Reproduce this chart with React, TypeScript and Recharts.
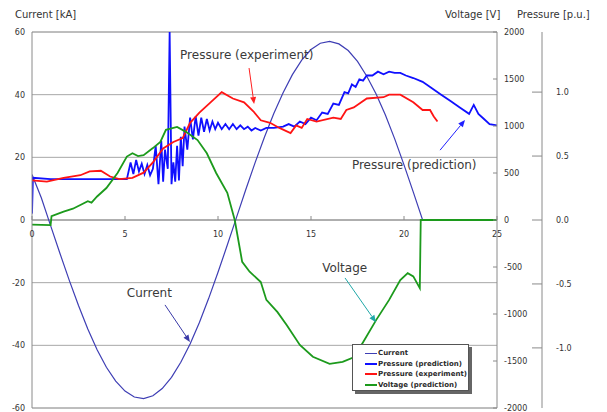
import React from 'react';
import { LineChart, Line, XAxis, YAxis, CartesianGrid, ReferenceLine, ReferenceDot, Legend } from 'recharts';

// time [ms] , value
const currentKA: [number, number][] = [
  [0, 14.5], [0.5, 7.1], [1, -1.8], [1.5, -10.6], [2, -19.2], [2.5, -27.3], [3, -34.8], [3.5, -41.4],
  [4, -47.0], [4.5, -51.4], [5, -54.6], [5.5, -56.5], [6, -57], [6.5, -56.1], [7, -53.8], [7.5, -50.2],
  [8, -45.4], [8.5, -39.6], [9, -32.7], [9.5, -25.0], [10, -16.7], [10.5, -8.0], [11, 0.9], [11.5, 9.8],
  [12, 18.4], [12.5, 26.5], [13, 34.0], [13.5, 40.6], [14, 46.4], [14.5, 51.0], [15, 54.4], [15.5, 56.4],
  [16, 57.0], [16.5, 56.2], [17, 54.1], [17.5, 50.6], [18, 45.9], [18.5, 40.2], [19, 33.5], [19.5, 25.9],
  [20, 17.6], [20.5, 8.9], [21, 0], [25, 0],
];

const pressurePrediction: [number, number][] = [
  [0, 0.05], [0.05, 0.33], [1, 0.32], [2, 0.32], [3, 0.32], [4, 0.32], [5.1, 0.32], [5.3, 0.45], [5.45, 0.36],
  [5.6, 0.47], [5.75, 0.38], [5.9, 0.44], [6.05, 0.36], [6.2, 0.43], [6.35, 0.35], [6.5, 0.4], [6.65, 0.58],
  [6.8, 0.28], [6.95, 0.62], [7.05, 0.3], [7.15, 0.55], [7.3, 0.4], [7.4, 1.47], [7.5, 0.28], [7.6, 0.45],
  [7.7, 0.3], [7.8, 0.58], [7.9, 0.31], [8.0, 0.65], [8.1, 0.42], [8.2, 0.73], [8.35, 0.55], [8.5, 0.8],
  [8.65, 0.63], [8.8, 0.81], [8.95, 0.66], [9.1, 0.8], [9.25, 0.69], [9.4, 0.79], [9.55, 0.7], [9.7, 0.77],
  [9.85, 0.71], [10.0, 0.76], [10.2, 0.71], [10.4, 0.75], [10.6, 0.71], [10.8, 0.75], [11.0, 0.71], [11.2, 0.74],
  [11.4, 0.71], [11.6, 0.73], [11.8, 0.7], [12.0, 0.72], [12.3, 0.7], [12.6, 0.72], [13.0, 0.72], [13.5, 0.73],
  [13.8, 0.75], [14.1, 0.73], [14.4, 0.77], [14.7, 0.75], [15.0, 0.8], [15.3, 0.78], [15.6, 0.84], [15.9, 0.83],
  [16.2, 0.91], [16.5, 0.9], [16.8, 1.0], [17.0, 0.99], [17.2, 1.06], [17.4, 1.04], [17.6, 1.1], [17.8, 1.09],
  [18.0, 1.13], [18.3, 1.13], [18.6, 1.16], [18.9, 1.14], [19.2, 1.16], [19.5, 1.15], [19.8, 1.15], [20.1, 1.13],
  [20.5, 1.11], [21.0, 1.08], [21.5, 1.03], [22.0, 0.98], [22.5, 0.93], [23.0, 0.88], [23.5, 0.83], [23.75, 0.9],
  [24.0, 0.83], [24.3, 0.79], [24.6, 0.75], [25, 0.74],
];

const pressureExperiment: [number, number][] = [
  [0, 0.31], [0.8, 0.3], [1.7, 0.33], [2.6, 0.35], [3.1, 0.38], [3.7, 0.385], [4.2, 0.34], [4.7, 0.32],
  [5.4, 0.33], [6.0, 0.37], [6.5, 0.45], [7.05, 0.56], [7.6, 0.61], [8.1, 0.64], [8.5, 0.76], [9.0, 0.84],
  [9.6, 0.92], [10.2, 1.0], [10.8, 0.95], [11.4, 0.92], [11.9, 0.85], [12.3, 0.78], [12.8, 0.76], [13.3, 0.72],
  [13.9, 0.68], [14.2, 0.74], [14.5, 0.72], [14.8, 0.79], [15.3, 0.77], [16.2, 0.8], [16.6, 0.79], [16.9, 0.86],
  [17.3, 0.88], [18.0, 0.95], [18.9, 0.96], [19.2, 0.98], [19.8, 0.98], [20.5, 0.92], [21.0, 0.86], [21.4, 0.86],
  [21.6, 0.81], [21.8, 0.77],
];

const voltageV: [number, number][] = [
  [0, -50], [1.0, -55], [1.05, 40], [1.7, 90], [2.2, 120], [2.6, 160], [3.0, 200], [3.2, 185], [3.5, 250],
  [4.0, 340], [4.6, 500], [5.1, 675], [5.4, 710], [5.7, 680], [6.0, 690], [6.5, 765], [6.9, 830], [7.2, 960],
  [7.8, 990], [8.3, 935], [8.9, 850], [9.4, 710], [9.9, 500], [10.5, 290], [10.9, 0], [11.3, -445], [11.7, -550],
  [12.3, -660], [12.6, -850], [13.2, -980], [13.7, -1120], [14.4, -1330], [15.1, -1455], [16.0, -1530],
  [16.7, -1510], [17.3, -1460], [17.8, -1300], [18.5, -1065], [19.2, -850], [19.8, -640], [20.2, -565],
  [20.5, -600], [20.85, -725], [20.9, 0], [25, 0],
];

const timeTicks = [0, 5, 10, 15, 20, 25];
const currentTicks = [-60, -40, -20, 0, 20, 40, 60];
const voltageTicks = [-2000, -1500, -1000, -500, 0, 500, 1000, 1500, 2000];
const pressureTicks = [-1, -0.5, 0, 0.5, 1];

const seriesNames = ['Current', 'Pressure (prediction)', 'Pressure (experiment)', 'Voltage (prediction)'];
const seriesColors = ['#3e3eb4', '#1010ff', '#ff1414', '#1c9a1c'];

const toRows = (arr: [number, number][]) => arr.map(([t, v]) => ({ t, v }));

const FONT = 'DejaVu Sans, Verdana, sans-serif';
const AXIS = '#8a8a8a';
const TXT = '#333';

const LeftTick = (p: any) => (
  <text x={p.x - 7} y={p.y} dy={3} textAnchor="end" fontSize={8} fill={TXT} fontFamily={FONT}>{p.payload.value}</text>
);
const VoltTick = (p: any) => (
  <g>
    <line x1={p.x - 4} x2={p.x} y1={p.y} y2={p.y} stroke={AXIS} />
    <text x={p.x + 7} y={p.y} dy={3} textAnchor="start" fontSize={8} fill={TXT} fontFamily={FONT}>{p.payload.value}</text>
  </g>
);
const PressTick = (p: any) => (
  <g>
    <line x1={p.x - 10} x2={p.x} y1={p.y} y2={p.y} stroke={AXIS} />
    <text x={p.x + 14} y={p.y} dy={3} textAnchor="start" fontSize={8} fill={TXT} fontFamily={FONT}>{Number(p.payload.value).toFixed(1)}</text>
  </g>
);

const xTickShape = (label: number) => (props: any) => (
  <g>
    <line x1={props.cx} x2={props.cx} y1={props.cy - 4} y2={props.cy} stroke={AXIS} />
    <text x={props.cx} y={props.cy + 17} textAnchor="middle" fontSize={8} fill={TXT} fontFamily={FONT}>{label}</text>
  </g>
);

const arrowShape = (color: string) => (props: any) => {
  const { x1, y1, x2, y2 } = props;
  if ([x1, y1, x2, y2].some((v) => v == null || isNaN(v))) return null;
  const ang = Math.atan2(y2 - y1, x2 - x1);
  const L = 7, W = 3;
  const bx = x2 - L * Math.cos(ang), by = y2 - L * Math.sin(ang);
  const px = -Math.sin(ang) * W, py = Math.cos(ang) * W;
  return (
    <g>
      <line x1={x1} y1={y1} x2={bx} y2={by} stroke={color} strokeWidth={1} />
      <polygon points={`${x2},${y2} ${bx + px},${by + py} ${bx - px},${by - py}`} fill={color} />
    </g>
  );
};

const textShape = (label: string) => (props: any) => (
  <text x={props.cx} y={props.cy} textAnchor="start" fontSize={12} fill="#3a3a3a" fontFamily={FONT}>{label}</text>
);

const annotations = [
  { text: 'Pressure (experiment)', at: [7.96, 51.4], from: [11.67, 48.5], to: [11.94, 37.0], color: '#ff2020' },
  { text: 'Pressure (prediction)', at: [17.2, 16.3], from: [21.94, 22.3], to: [23.28, 31.9], color: '#2020ff' },
  { text: 'Voltage', at: [15.6, -16.6], from: [16.83, -18.5], to: [18.49, -32.6], color: '#20a8a8' },
  { text: 'Current', at: [5.1, -24.6], from: [7.15, -27.1], to: [8.49, -38.9], color: '#3a3aa8' },
];

const LegendBox = () => (
  <div
    style={{
      width: 117,
      height: 47,
      border: '1px solid #555',
      background: '#fff',
      boxShadow: '3px 3px 0 #666',
      fontFamily: FONT,
      fontSize: 7,
      fontWeight: 'bold',
      color: '#2a2a2a',
      paddingTop: 3,
      boxSizing: 'border-box',
    }}
  >
    {seriesNames.map((n, i) => (
      <div key={n} style={{ display: 'flex', alignItems: 'center', height: 10.5, paddingLeft: 12 }}>
        <span style={{ display: 'inline-block', width: 12, height: i === 0 ? 1 : 2, background: seriesColors[i], marginRight: 1 }} />
        <span style={{ lineHeight: '10px', whiteSpace: 'nowrap' }}>{n}</span>
      </div>
    ))}
  </div>
);

export default function App() {
  return (
    <LineChart width={599} height={404} margin={{ top: 24, right: 10, bottom: 4, left: 0 }}>
      <CartesianGrid yAxisId="c" vertical={false} stroke="#a8a8a8" />
      <XAxis dataKey="t" type="number" domain={[0, 25]} ticks={timeTicks} allowDataOverflow hide />
      <YAxis
        yAxisId="c"
        orientation="left"
        width={24}
        domain={[-60, 60]}
        ticks={currentTicks}
        interval={0}
        allowDataOverflow
        stroke={AXIS}
        tickLine={false}
        tickSize={0}
        tickMargin={0}
        tick={<LeftTick />}
        label={{
          content: (lp: any) => (
            <text x={(lp.viewBox?.x ?? 0) + 7} y={10} fontSize={10} fill={TXT} fontFamily={FONT}>Current [kA]</text>
          ),
        }}
      />
      <YAxis
        yAxisId="b"
        orientation="right"
        width={55}
        domain={[-1.47, 1.47]}
        ticks={pressureTicks}
        interval={0}
        allowDataOverflow
        stroke={AXIS}
        tickLine={false}
        tickSize={0}
        tickMargin={0}
        tick={<PressTick />}
        label={{
          content: (lp: any) => (
            <text x={(lp.viewBox?.x ?? 0) - 25} y={10} fontSize={10} fill={TXT} fontFamily={FONT}>Pressure [p.u.]</text>
          ),
        }}
      />
      <YAxis
        yAxisId="a"
        orientation="right"
        width={45}
        domain={[-2000, 2000]}
        ticks={voltageTicks}
        interval={0}
        allowDataOverflow
        stroke={AXIS}
        tickLine={false}
        tickSize={0}
        tickMargin={0}
        tick={<VoltTick />}
        label={{
          content: (lp: any) => (
            <text x={(lp.viewBox?.x ?? 0) - 52} y={10} fontSize={10} fill={TXT} fontFamily={FONT}>Voltage [V]</text>
          ),
        }}
      />
      <ReferenceLine yAxisId="c" y={60} stroke="#a8a8a8" />
      <ReferenceLine yAxisId="c" y={-60} stroke="#a8a8a8" />
      <ReferenceLine yAxisId="c" y={0} stroke={AXIS} />
      {timeTicks.map((t) => (
        <ReferenceDot key={'x' + t} yAxisId="c" x={t} y={0} r={1} shape={xTickShape(t)} />
      ))}
      <Line yAxisId="c" data={toRows(currentKA)} dataKey="v" name={seriesNames[0]} stroke={seriesColors[0]} strokeWidth={1.2} dot={false} isAnimationActive={false} />
      <Line yAxisId="b" data={toRows(pressurePrediction)} dataKey="v" name={seriesNames[1]} stroke={seriesColors[1]} strokeWidth={1.8} dot={false} isAnimationActive={false} />
      <Line yAxisId="b" data={toRows(pressureExperiment)} dataKey="v" name={seriesNames[2]} stroke={seriesColors[2]} strokeWidth={1.8} dot={false} isAnimationActive={false} />
      <Line yAxisId="a" data={toRows(voltageV)} dataKey="v" name={seriesNames[3]} stroke={seriesColors[3]} strokeWidth={1.8} dot={false} isAnimationActive={false} />
      {annotations.map((a) => (
        <ReferenceLine
          key={'l' + a.text}
          yAxisId="c"
          segment={[{ x: a.from[0], y: a.from[1] }, { x: a.to[0], y: a.to[1] }]}
          shape={arrowShape(a.color)}
        />
      ))}
      {annotations.map((a) => (
        <ReferenceDot key={'d' + a.text} yAxisId="c" x={a.at[0]} y={a.at[1]} r={1} shape={textShape(a.text)} />
      ))}
      <Legend
        layout="vertical"
        align="center"
        verticalAlign="middle"
        wrapperStyle={{ left: 344, top: 336, width: 120, height: 50 }}
        content={() => <LegendBox />}
      />
    </LineChart>
  );
}
